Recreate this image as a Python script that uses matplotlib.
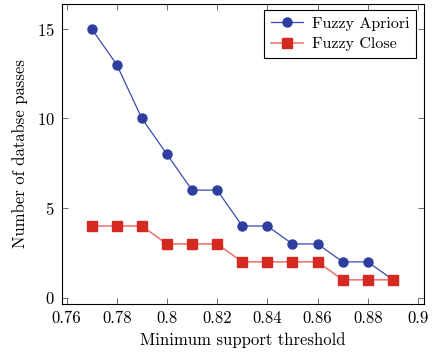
import matplotlib.pyplot as plt

plt.rcParams['font.family'] = 'serif'
plt.rcParams['font.serif'] = ['cmr10', 'DejaVu Serif']
plt.rcParams['axes.formatter.use_mathtext'] = True
plt.rcParams['mathtext.fontset'] = 'cm'

# 数据
support = [0.77, 0.78, 0.79, 0.80, 0.81, 0.82, 0.83, 0.84, 0.85, 0.86, 0.87, 0.88, 0.89]
fuzzy_apriori = [15, 13, 10, 8, 6, 6, 4, 4, 3, 3, 2, 2, 1]
fuzzy_close = [4, 4, 4, 3, 3, 3, 2, 2, 2, 2, 1, 1, 1]

x_ticks = [0.76, 0.78, 0.80, 0.82, 0.84, 0.86, 0.88, 0.90]
x_labels = ['0.76', '0.78', '0.8', '0.82', '0.84', '0.86', '0.88', '0.9']
y_ticks = [0, 5, 10, 15]

fig = plt.figure(figsize=(4.34, 3.54), dpi=100)
ax = fig.add_axes([61.5 / 434, 1 - 304 / 354, (424 - 61.5) / 434, 300 / 354])

ax.plot(support, fuzzy_apriori, color='#3a4bb0', lw=0.9, marker='o', ms=6.5,
        mfc='#2e3d9e', mec='#2e3d9e', label='Fuzzy Apriori')
ax.plot(support, fuzzy_close, color='#f07878', lw=1.2, marker='s', ms=6.5,
        mfc='#d42a22', mec='#d42a22', label='Fuzzy Close')

ax.set_xlim(0.758, 0.9024)
ax.set_ylim(-0.35, 16.38)
ax.set_xticks(x_ticks)
ax.set_xticklabels(x_labels)
ax.set_yticks(y_ticks)
ax.tick_params(direction='in', top=True, right=True, labelsize=12, length=4,
               width=0.6, color='#555555', pad=5)
for s in ax.spines.values():
    s.set_linewidth(0.8)

ax.set_xlabel('Minimum support threshold', fontsize=12, labelpad=4)
ax.set_ylabel('Number of databse passes', fontsize=12, labelpad=6)

leg = ax.legend(loc='upper right', fontsize=11.5, fancybox=False, framealpha=1,
                edgecolor='black', borderpad=0.4, handlelength=2.0,
                handletextpad=0.6, labelspacing=0.4, borderaxespad=0,
                bbox_to_anchor=(0.978, 0.98))
leg.get_frame().set_linewidth(0.8)

plt.savefig('out.png', dpi=100)
